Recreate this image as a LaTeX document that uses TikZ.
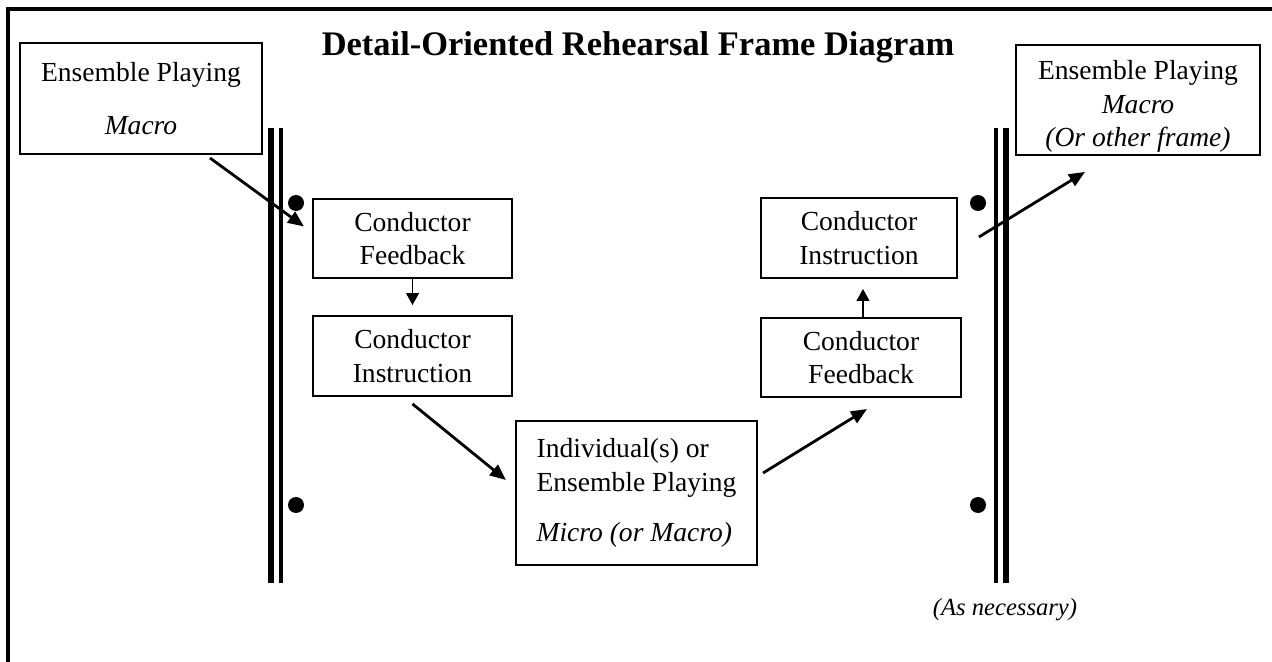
\documentclass[tikz,border=0pt]{standalone}
\usepackage{fontspec}
\setmainfont{Liberation Serif}
\usetikzlibrary{positioning}
\usetikzlibrary{calc}
\usetikzlibrary{arrows.meta}

\tikzset{
  panel/.style={draw, line width=1.3pt, align=center, inner sep=0pt,
    font=\fontsize{19.6}{24}\selectfont},
  flow/.style={-{Triangle[length=0.4cm,width=0.33cm]}, line width=2pt},
  nudge/.style={-{Triangle[length=0.3cm,width=0.32cm]}, line width=1.2pt, shorten >=0.25cm},
}

\begin{document}
\begin{tikzpicture}[x=0.025cm, y=-0.025cm]
  \fill[white] (0,0) rectangle (1272,662);
  \useasboundingbox (0,0) rectangle (1272,662);
  \draw[line width=2.2pt] (1272,9) -- (8,9) -- (8,662);

  \node[font=\fontsize{24.5}{30}\selectfont\bfseries] (title) at (638,47)
    {Detail-Oriented Rehearsal Frame Diagram};

  % repeat bars
  \foreach \x/\w in {270.5/0.15cm, 280.5/0.1cm, 996/0.1cm, 1006/0.15cm}
    \draw[line width=\w] (\x,128) -- (\x,583);
  \foreach \x in {296,978}
    \foreach \y in {203,505}
      \fill (\x,\y) circle (0.2cm);

  \node[panel, minimum width=6.05cm, minimum height=2.78cm] (macroL) at (141,98.5)
    {Ensemble Playing\\[0.5cm] \textit{Macro}};
  \node[panel, minimum width=4.98cm, minimum height=1.98cm] (fbL) at (412.5,238.5)
    {Conductor\\Feedback};
  \node[panel, minimum width=4.98cm, minimum height=2cm] (instL) at (412.5,356)
    {Conductor\\Instruction};
  \node[panel, align=left, minimum width=6.03cm, minimum height=3.6cm] (play) at (636.5,493)
    {Individual(s) or\\Ensemble Playing\\[0.4cm] \textit{Micro (or Macro)}};
  \node[panel, minimum width=5cm, minimum height=1.98cm] (fbR) at (861,357.5)
    {Conductor\\Feedback};
  \node[panel, minimum width=4.9cm, minimum height=2cm] (instR) at (859,238)
    {Conductor\\Instruction};
  \node[panel, minimum width=6.1cm, minimum height=2.75cm] (macroR) at (1138,100)
    {\rule{0pt}{0.8cm}Ensemble Playing\\\textit{Macro}\\\textit{(Or other frame)}};

  \node[font=\fontsize{17.5}{20}\selectfont\itshape] (note) at (1005,610) {(As necessary)};

  \draw[flow] ($(macroL.south)+(69,3)$) -- ($(fbL.west)+(-8,-12)$);
  \draw[nudge] (fbL.south) -- (instL.north);
  \draw[flow] ($(instL.south)+(0,7)$) -- ($(play.west)+(-9,-13)$);
  \draw[flow] ($(play.east)+(5,-20)$) -- ($(fbR.south)+(6,11)$);
  \draw[nudge] ($(fbR.north)+(2,0)$) -- ($(instR.south)+(4,0)$);
  \draw[flow] ($(instR.east)+(21,-1)$) -- ($(macroR.south)+(-53,16)$);
\end{tikzpicture}
\end{document}
